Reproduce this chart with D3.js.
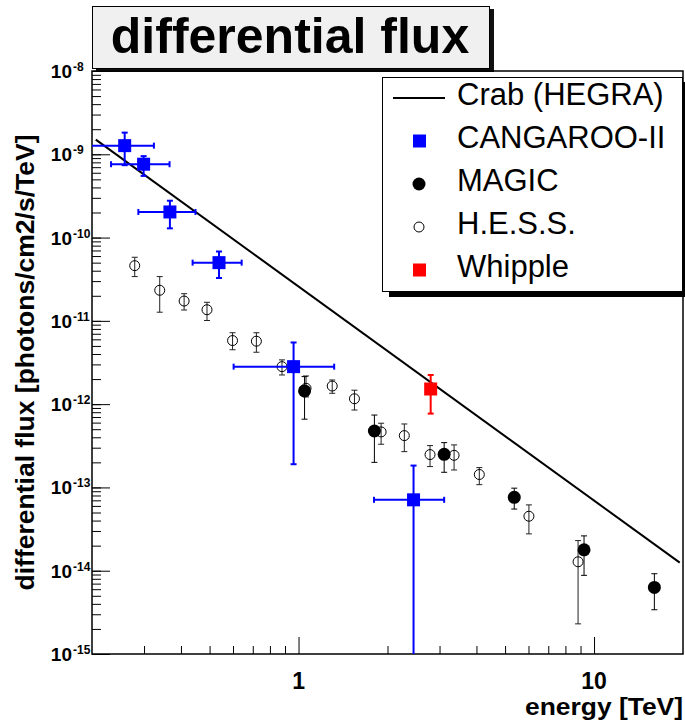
<!DOCTYPE html>
<html>

<head>
    <meta charset="UTF-8">
    <title>differential flux</title>
    <style>
        body { margin: 0; background: #fff; }
        text { font-family: "Liberation Sans", Arial, sans-serif; }
    </style>
</head>

<body>
    <script src="https://cdn.jsdelivr.net/npm/d3@7"></script>

    <svg id="chart" width="685" height="720"></svg>

    <script>
        // Crab (HEGRA) power law, two end points of the straight line in log-log
        const crabE = [0.206, 19.5];
        const crabF = [1.5e-9, 1.25e-14];

        // CANGAROO-II: [E, Elow, Ehigh, flux, fluxLow, fluxHigh]
        const cangaroo = [
            [0.258, 0.18, 0.324, 1.27e-9, 7.4e-10, 1.82e-9],
            [0.299, 0.232, 0.366, 7.6e-10, 5.5e-10, 9.5e-10],
            [0.367, 0.287, 0.448, 2.03e-10, 1.29e-10, 2.77e-10],
            [0.538, 0.438, 0.642, 5.0e-11, 3.27e-11, 6.8e-11],
            [0.962, 0.603, 1.32, 2.82e-12, 1.9e-13, 5.5e-12],
            [2.45, 1.80, 3.11, 7.1e-14, 3e-16, 1.83e-13]
        ];

        // MAGIC: [E, flux, fluxLow, fluxHigh]
        const magic = [
            [1.048, 1.44e-12, 6.6e-13, 2.14e-12],
            [1.806, 4.76e-13, 2.0e-13, 7.4e-13],
            [3.11, 2.5e-13, 1.52e-13, 3.45e-13],
            [5.37, 7.6e-14, 5.5e-14, 9.8e-14],
            [9.25, 1.78e-14, 8.8e-15, 2.62e-14],
            [16.0, 6.3e-15, 3.4e-15, 9.2e-15]
        ];

        // H.E.S.S.: [E, flux, fluxLow, fluxHigh]
        const hess = [
            [0.279, 4.6e-11, 3.4e-11, 5.8e-11],
            [0.339, 2.33e-11, 1.27e-11, 3.4e-11],
            [0.410, 1.73e-11, 1.35e-11, 2.12e-11],
            [0.490, 1.36e-11, 1.01e-11, 1.67e-11],
            [0.598, 5.8e-12, 4.5e-12, 7.2e-12],
            [0.720, 5.7e-12, 4.2e-12, 7.2e-12],
            [0.879, 2.82e-12, 2.24e-12, 3.4e-12],
            [1.06, 1.55e-12, 1.22e-12, 2.18e-12],
            [1.30, 1.65e-12, 1.35e-12, 1.95e-12],
            [1.546, 1.16e-12, 8.5e-13, 1.47e-12],
            [1.903, 4.64e-13, 3.3e-13, 5.9e-13],
            [2.28, 4.19e-13, 2.69e-13, 5.78e-13],
            [2.786, 2.48e-13, 1.78e-13, 3.18e-13],
            [3.36, 2.43e-13, 1.62e-13, 3.24e-13],
            [4.09, 1.43e-13, 1.08e-13, 1.73e-13],
            [6.02, 4.51e-14, 2.77e-14, 6.17e-14],
            [8.83, 1.28e-14, 2.3e-15, 2.3e-14]
        ];

        // Whipple: [E, flux, fluxLow, fluxHigh]
        const whipple = [
            [2.80, 1.52e-12, 7.7e-13, 2.24e-12]
        ];

        const legendLabels = ["Crab (HEGRA)", "CANGAROO-II", "MAGIC", "H.E.S.S.", "Whipple"];
        const yExponents = [-8, -9, -10, -11, -12, -13, -14, -15];
        const xLabels = [1, 10];

        const svg = d3.select("#chart");
        const frame = { left: 92, right: 683, top: 71, bottom: 654 };

        const x = d3.scaleLog().domain([0.2, 20]).range([frame.left, frame.right]);
        const y = d3.scaleLog().domain([1e-15, 1e-8]).range([frame.bottom, frame.top]);

        // minor ticks 2..9 in every decade
        const minorTicks = function (scale) {
            const d = scale.domain(), out = [];
            for (let p = Math.floor(Math.log10(d[0])); p <= Math.ceil(Math.log10(d[1])); p++) {
                for (let k = 1; k <= 9; k++) {
                    const v = k * Math.pow(10, p);
                    if (v > d[0] * 1.001 && v < d[1] * 0.999) out.push(v);
                }
            }
            return out;
        };

        //标题框
        const title = svg.append("g");
        title.append("rect").attr("x", 96).attr("y", 9).attr("width", 398).attr("height", 63).attr("fill", "#111");
        title.append("rect").attr("x", 92.5).attr("y", 6.5).attr("width", 397).attr("height", 62)
            .attr("fill", "#f0f0f0").attr("stroke", "#000").attr("stroke-width", 1);
        title.append("text").attr("x", 290).attr("y", 53).attr("text-anchor", "middle")
            .attr("font-size", 50).attr("font-weight", "bold").text("differential flux");

        // frame
        svg.append("rect").attr("x", frame.left).attr("y", frame.top)
            .attr("width", frame.right - frame.left).attr("height", frame.bottom - frame.top)
            .attr("fill", "none").attr("stroke", "#000").attr("stroke-width", 1.5);

        // axes, ticks drawn inward
        const yMajor = yExponents.map(e => Math.pow(10, e));
        const yAxisG = svg.append("g").attr("transform", `translate(${frame.left},0)`);
        yAxisG.append("g").call(d3.axisRight(y).tickValues(yMajor).tickSize(18).tickFormat(""));
        yAxisG.append("g").call(d3.axisRight(y).tickValues(minorTicks(y)).tickSize(9).tickFormat(""));
        yAxisG.selectAll(".domain").remove();
        yAxisG.selectAll("line").attr("stroke", "#000");

        const xAxisG = svg.append("g").attr("transform", `translate(0,${frame.bottom})`);
        xAxisG.append("g").call(d3.axisTop(x).tickValues(xLabels).tickSize(17).tickFormat(""));
        xAxisG.append("g").call(d3.axisTop(x).tickValues(minorTicks(x).filter(v => xLabels.indexOf(v) < 0)).tickSize(8).tickFormat(""));
        xAxisG.selectAll(".domain").remove();
        xAxisG.selectAll("line").attr("stroke", "#000");

        // y tick labels 10^n
        const yLab = svg.append("g").attr("font-weight", "bold");
        yExponents.forEach(e => {
            const py = y(Math.pow(10, e));
            yLab.append("text").attr("x", 72).attr("y", py + 7).attr("text-anchor", "end")
                .attr("font-size", 19).text("10");
            yLab.append("text").attr("x", 73).attr("y", py).attr("font-size", 12).text(e);
        });

        // x tick labels
        svg.append("g").selectAll("text").data(xLabels).join("text")
            .attr("x", d => x(d)).attr("y", 688.5).attr("text-anchor", "middle")
            .attr("font-size", 23).attr("font-weight", "bold").text(d => d);

        // axis titles
        svg.append("text").attr("x", frame.right).attr("y", 714.5).attr("text-anchor", "end")
            .attr("font-size", 23).attr("font-weight", "bold")
            .attr("textLength", 158).attr("lengthAdjust", "spacingAndGlyphs")
            .text("energy [TeV]");
        svg.append("text").attr("transform", `translate(34,${(frame.top + frame.bottom) / 2}) rotate(-90)`)
            .attr("text-anchor", "middle").attr("font-size", 26.5).attr("font-weight", "bold")
            .text("differential flux [photons/cm2/s/TeV]");

        // plot area
        svg.append("clipPath").attr("id", "clip").append("rect")
            .attr("x", frame.left).attr("y", frame.top)
            .attr("width", frame.right - frame.left).attr("height", frame.bottom - frame.top);
        const plot = svg.append("g").attr("clip-path", "url(#clip)");

        // Crab line
        plot.append("path")
            .datum(d3.zip(crabE, crabF))
            .attr("d", d3.line().x(d => x(d[0])).y(d => y(d[1])))
            .attr("fill", "none").attr("stroke", "#000").attr("stroke-width", 2);

        //误差棒
        const vBar = function (g, px, y0, y1, color, w, cap) {
            g.append("line").attr("x1", px).attr("x2", px).attr("y1", y0).attr("y2", y1)
                .attr("stroke", color).attr("stroke-width", w);
            [y0, y1].forEach(v => g.append("line").attr("x1", px - cap).attr("x2", px + cap)
                .attr("y1", v).attr("y2", v).attr("stroke", color).attr("stroke-width", w));
        };
        const hBar = function (g, py, x0, x1, color, w, cap) {
            g.append("line").attr("x1", x0).attr("x2", x1).attr("y1", py).attr("y2", py)
                .attr("stroke", color).attr("stroke-width", w);
            [x0, x1].forEach(v => g.append("line").attr("x1", v).attr("x2", v)
                .attr("y1", py - cap).attr("y2", py + cap).attr("stroke", color).attr("stroke-width", w));
        };

        // H.E.S.S.
        const gH = plot.append("g");
        hess.forEach(d => vBar(gH, x(d[0]), y(d[2]), y(d[3]), "#222", 1, 3));
        gH.selectAll("circle").data(hess).join("circle")
            .attr("cx", d => x(d[0])).attr("cy", d => y(d[1])).attr("r", 5)
            .attr("fill", "none").attr("stroke", "#000").attr("stroke-width", 1);

        // MAGIC
        const gM = plot.append("g");
        magic.forEach(d => vBar(gM, x(d[0]), y(d[2]), y(d[3]), "#000", 1, 3));
        gM.selectAll("circle").data(magic).join("circle")
            .attr("cx", d => x(d[0])).attr("cy", d => y(d[1])).attr("r", 6.5).attr("fill", "#000");

        // CANGAROO-II
        const gC = plot.append("g");
        cangaroo.forEach(d => {
            vBar(gC, x(d[0]), y(d[4]), y(d[5]), "#0000ff", 2, 3);
            hBar(gC, y(d[3]), x(d[1]), x(d[2]), "#0000ff", 2, 3);
        });
        gC.selectAll("rect").data(cangaroo).join("rect")
            .attr("x", d => x(d[0]) - 6.5).attr("y", d => y(d[3]) - 6.5)
            .attr("width", 13).attr("height", 13).attr("fill", "#0000ff");

        // Whipple
        const gW = plot.append("g");
        whipple.forEach(d => vBar(gW, x(d[0]), y(d[2]), y(d[3]), "#ff0000", 2, 3));
        gW.selectAll("rect").data(whipple).join("rect")
            .attr("x", d => x(d[0]) - 6.5).attr("y", d => y(d[1]) - 6.5)
            .attr("width", 13).attr("height", 13).attr("fill", "#ff0000");

        // legend
        const leg = svg.append("g");
        leg.append("rect").attr("x", 389).attr("y", 82).attr("width", 300).attr("height", 215).attr("fill", "#000");
        leg.append("rect").attr("x", 382.5).attr("y", 77.5).attr("width", 300).attr("height", 214)
            .attr("fill", "#fff").attr("stroke", "#000").attr("stroke-width", 1);
        const rowY = i => 98 + i * 43;
        legendLabels.forEach((t, i) => {
            leg.append("text").attr("x", 457).attr("y", rowY(i) + 7)
                .attr("font-size", 31).text(t);
        });
        leg.append("line").attr("x1", 393).attr("x2", 445).attr("y1", rowY(0)).attr("y2", rowY(0))
            .attr("stroke", "#000").attr("stroke-width", 2);
        leg.append("rect").attr("x", 413).attr("y", rowY(1) - 6.5).attr("width", 13).attr("height", 13).attr("fill", "#0000ff");
        leg.append("circle").attr("cx", 419).attr("cy", rowY(2)).attr("r", 6.5).attr("fill", "#000");
        leg.append("circle").attr("cx", 419).attr("cy", rowY(3)).attr("r", 5)
            .attr("fill", "none").attr("stroke", "#000").attr("stroke-width", 1);
        leg.append("rect").attr("x", 413).attr("y", rowY(4) - 6.5).attr("width", 13).attr("height", 13).attr("fill", "#ff0000");
    </script>

</body>

</html>
